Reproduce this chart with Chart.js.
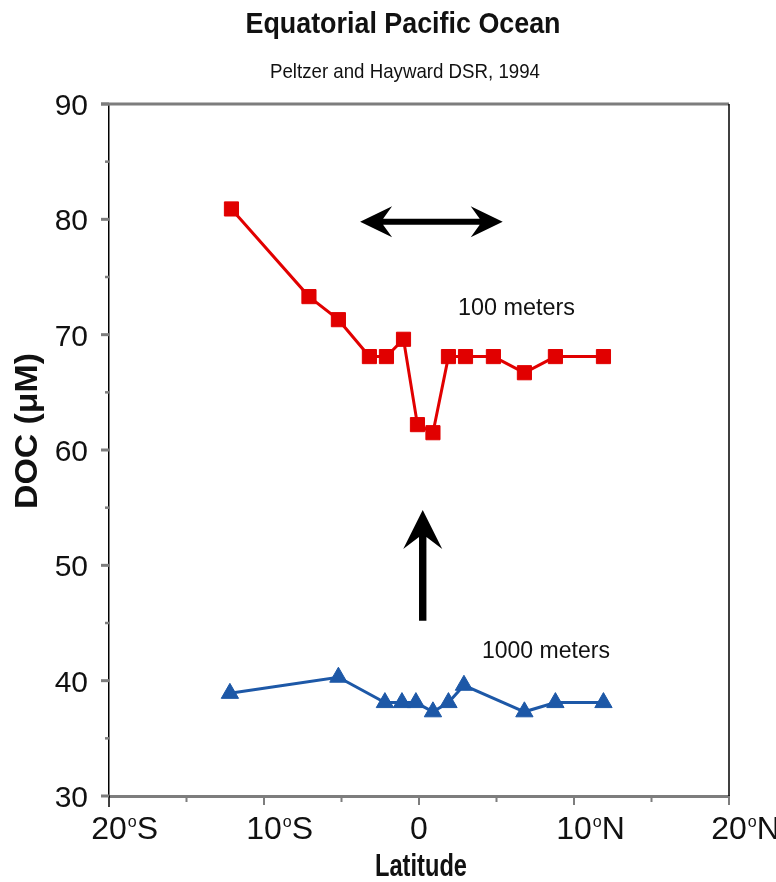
<!DOCTYPE html>
<html>
<head>
<meta charset="utf-8">
<script src="https://cdn.jsdelivr.net/npm/chart.js@4.4.1/dist/chart.umd.min.js"></script>
<style>
  html, body { margin: 0; padding: 0; background: #fff; overflow: hidden; }
  #wrap { width: 776px; height: 882px; }
</style>
</head>
<body>
<div id="wrap"><canvas id="docChart" width="776" height="882"></canvas></div>
<script>
// DOC vs latitude
const lat100 = [-12.1, -7.1, -5.2, -3.2, -2.1, -1.0, -0.1, 0.9, 1.9, 3.0, 4.8, 6.8, 8.8, 11.9];
const doc100 = [80.9, 73.3, 71.3, 68.1, 68.1, 69.6, 62.2, 61.5, 68.1, 68.1, 68.1, 66.7, 68.1, 68.1];
const lat1000 = [-12.2, -5.2, -2.2, -1.1, -0.2, 0.9, 1.9, 2.9, 6.8, 8.8, 11.9];
const doc1000 = [38.9, 40.3, 38.1, 38.1, 38.1, 37.3, 38.1, 39.6, 37.3, 38.1, 38.1];

const xTicks = [-20, -10, 0, 10, 20];
const xTickNums = ['20', '10', '0', '10', '20'];
const xTickHemi = ['S', 'S', '', 'N', 'N'];
const xMinor = [-15, -5, 5, 15];
const yTicks = [30, 40, 50, 60, 70, 80, 90];
const yMinor = [35, 45, 55, 65, 75, 85];

// annotation arrows (lat, DOC)
const arrowH = [[-3.8, 79.8], [5.4, 79.8]];
const arrowV = [[0.24, 45.2], [0.24, 54.8]];

const RED = '#e10000';
const BLUE = '#1d58a7';
const FONT = '"Liberation Sans", Arial, Helvetica, sans-serif';

function pts(xs, ys) { return xs.map((x, i) => ({ x, y: ys[i] })); }

function fitText(ctx, text, x, y, font, width, align) {
  ctx.save();
  ctx.font = font;
  const w = ctx.measureText(text).width;
  const sx = width ? width / w : 1;
  ctx.translate(x, y);
  ctx.scale(sx, 1);
  ctx.textAlign = align || 'center';
  ctx.textBaseline = 'alphabetic';
  ctx.fillStyle = '#111';
  ctx.fillText(text, 0, 0);
  ctx.restore();
}

function arrow(ctx, x0, y0, x1, y1, h, double) {
  const len = Math.hypot(x1 - x0, y1 - y0);
  const ang = Math.atan2(y1 - y0, x1 - x0);
  let p;
  if (double) {
    p = [[0, 0], [h.L, -h.W], [h.N, -h.t], [len - h.N, -h.t], [len - h.L, -h.W], [len, 0],
         [len - h.L, h.W], [len - h.N, h.t], [h.N, h.t], [h.L, h.W]];
  } else {
    p = [[0, -h.t], [len - h.N, -h.t], [len - h.L, -h.W], [len, 0], [len - h.L, h.W], [len - h.N, h.t], [0, h.t]];
  }
  ctx.save();
  ctx.translate(x0, y0);
  ctx.rotate(ang);
  ctx.beginPath();
  p.forEach((q, i) => i ? ctx.lineTo(q[0], q[1]) : ctx.moveTo(q[0], q[1]));
  ctx.closePath();
  ctx.fillStyle = '#000';
  ctx.fill();
  ctx.restore();
}

const decor = {
  id: 'decor',
  afterDraw(chart) {
    const { ctx, chartArea: a, scales: { x, y } } = chart;
    ctx.save();

    // top + right frame
    ctx.strokeStyle = '#7d7d7d';
    ctx.lineWidth = 3;
    ctx.beginPath(); ctx.moveTo(a.left - 8, a.top); ctx.lineTo(a.right, a.top); ctx.stroke();
    ctx.strokeStyle = '#000';
    ctx.lineWidth = 1.5;
    ctx.beginPath(); ctx.moveTo(a.right, a.top); ctx.lineTo(a.right, a.bottom + 4); ctx.stroke();
    ctx.beginPath(); ctx.moveTo(a.left, a.bottom); ctx.lineTo(a.left, a.bottom + 11); ctx.stroke();

    // y ticks
    ctx.strokeStyle = '#7d7d7d';
    ctx.lineWidth = 3;
    yTicks.forEach(v => {
      const py = y.getPixelForValue(v);
      ctx.beginPath(); ctx.moveTo(a.left - 8, py); ctx.lineTo(a.left, py); ctx.stroke();
    });
    ctx.lineWidth = 2.5;
    yMinor.forEach(v => {
      const py = y.getPixelForValue(v);
      ctx.beginPath(); ctx.moveTo(a.left - 4, py); ctx.lineTo(a.left, py); ctx.stroke();
    });
    // x ticks
    ctx.lineWidth = 2;
    xTicks.forEach(v => {
      if (v === -20) return;
      const px = x.getPixelForValue(v);
      ctx.beginPath(); ctx.moveTo(px, a.bottom); ctx.lineTo(px, a.bottom + 9); ctx.stroke();
    });
    xMinor.forEach(v => {
      const px = x.getPixelForValue(v);
      ctx.beginPath(); ctx.moveTo(px, a.bottom); ctx.lineTo(px, a.bottom + 6); ctx.stroke();
    });

    // y tick labels
    ctx.fillStyle = '#111';
    ctx.font = '30px ' + FONT;
    ctx.textAlign = 'right';
    ctx.textBaseline = 'alphabetic';
    yTicks.forEach(v => {
      ctx.fillText(String(v), 88, y.getPixelForValue(v) + 11);
    });

    // x tick labels: number centred on tick, small raised o, hemisphere
    xTicks.forEach((v, i) => {
      const px = x.getPixelForValue(v);
      const base = a.bottom + 43;
      ctx.font = '32px ' + FONT;
      ctx.textAlign = 'center';
      ctx.fillText(xTickNums[i], px, base);
      if (xTickHemi[i]) {
        const half = ctx.measureText(xTickNums[i]).width / 2;
        ctx.textAlign = 'left';
        ctx.font = '16px ' + FONT;
        ctx.fillText('o', px + half + 1, base - 12);
        const ow = ctx.measureText('o').width;
        ctx.font = '32px ' + FONT;
        ctx.fillText(xTickHemi[i], px + half + ow + 1, base);
      }
    });

    // titles
    fitText(ctx, 'Equatorial Pacific Ocean', 403, 33, 'bold 30px ' + FONT, 315);
    fitText(ctx, 'Peltzer and Hayward DSR, 1994', 405, 78, '21px ' + FONT, 270);
    fitText(ctx, 'Latitude', 421, 876, 'bold 31px ' + FONT, 92);
    ctx.save();
    ctx.translate(37, 431);
    ctx.rotate(-Math.PI / 2);
    fitText(ctx, 'DOC (\u03BCM)', 0, 0, 'bold 31px ' + FONT, 156);
    ctx.restore();

    // series labels
    fitText(ctx, '100 meters', x.getPixelForValue(6.29), y.getPixelForValue(71.7), '23px ' + FONT, 117);
    fitText(ctx, '1000 meters', x.getPixelForValue(8.19), y.getPixelForValue(41.95), '23px ' + FONT, 128);

    // arrows
    arrow(ctx, x.getPixelForValue(arrowH[0][0]), y.getPixelForValue(arrowH[0][1]),
          x.getPixelForValue(arrowH[1][0]), y.getPixelForValue(arrowH[1][1]),
          { L: 32, W: 15.5, N: 23, t: 3 }, true);
    arrow(ctx, x.getPixelForValue(arrowV[0][0]), y.getPixelForValue(arrowV[0][1]),
          x.getPixelForValue(arrowV[1][0]), y.getPixelForValue(arrowV[1][1]),
          { L: 39, W: 19.5, N: 27, t: 3.7 }, false);

    ctx.restore();
  }
};

new Chart(document.getElementById('docChart'), {
  type: 'scatter',
  data: {
    datasets: [
      {
        label: '100 meters',
        data: pts(lat100, doc100),
        showLine: true,
        borderColor: RED,
        backgroundColor: RED,
        borderWidth: 3,
        pointStyle: 'rect',
        pointRadius: 10,
        pointBorderWidth: 1,
        pointBorderColor: RED,
        pointBackgroundColor: RED
      },
      {
        label: '1000 meters',
        data: pts(lat1000, doc1000),
        showLine: true,
        borderColor: BLUE,
        backgroundColor: BLUE,
        borderWidth: 3,
        pointStyle: 'triangle',
        pointRadius: 10,
        pointBorderWidth: 1,
        pointBorderColor: BLUE,
        pointBackgroundColor: BLUE
      }
    ]
  },
  options: {
    responsive: false,
    devicePixelRatio: 1,
    animation: false,
    layout: { padding: { left: 109, right: 47, top: 104, bottom: 86 } },
    plugins: { legend: { display: false }, tooltip: { enabled: false } },
    scales: {
      x: {
        type: 'linear', min: -20, max: 20,
        ticks: { display: false },
        grid: { display: false, drawTicks: false },
        border: { display: true, color: '#7d7d7d', width: 3 }
      },
      y: {
        type: 'linear', min: 30, max: 90,
        ticks: { display: false },
        grid: { display: false, drawTicks: false },
        border: { display: true, color: '#000', width: 1.5 }
      }
    }
  },
  plugins: [decor]
});
</script>
</body>
</html>
